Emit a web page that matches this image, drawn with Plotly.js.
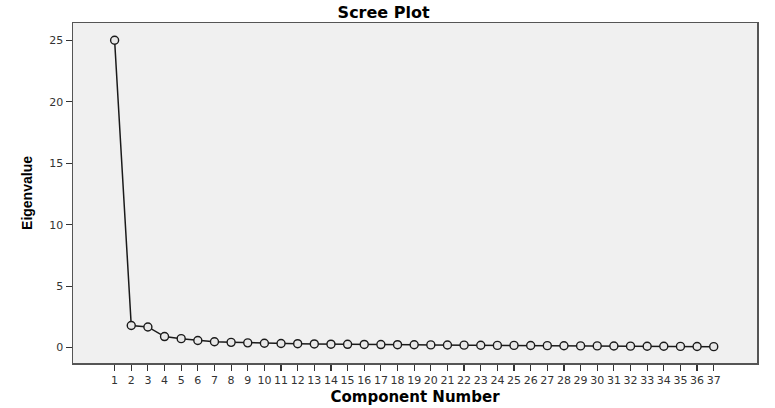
<!DOCTYPE html>
<html>
<head>
<meta charset="utf-8">
<script src="https://cdn.plot.ly/plotly-3.0.1.min.js"></script>
<style>
	html, body { margin: 0; padding: 0; background: #fff; }
	#myDiv { width: 775px; height: 408px; }
</style>
</head>
<body>
<div id="myDiv"></div>
<script>
// component numbers 1..37 and their eigenvalues
var components = [1, 2, 3, 4, 5, 6, 7, 8, 9, 10, 11, 12, 13, 14, 15, 16, 17, 18, 19,
	20, 21, 22, 23, 24, 25, 26, 27, 28, 29, 30, 31, 32, 33, 34, 35, 36, 37];

var eigenvalues = [25.0, 1.80, 1.68, 0.90, 0.73, 0.58, 0.48, 0.43, 0.39, 0.36, 0.34, 0.32,
	0.30, 0.28, 0.27, 0.26, 0.25, 0.24, 0.23, 0.22, 0.21, 0.20, 0.19, 0.18, 0.18, 0.17,
	0.16, 0.15, 0.14, 0.14, 0.13, 0.12, 0.11, 0.11, 0.10, 0.09, 0.08];

var yTicks = [0, 5, 10, 15, 20, 25];

var scree = {
	type: 'scatter',
	mode: 'lines+markers',
	x: components,
	y: eigenvalues,
	line: {color: '#1a1a1a', width: 1.5},
	marker: {
		symbol: 'circle',
		size: 8,
		color: '#e8e8e8',
		line: {color: '#1a1a1a', width: 1.4}
	},
	hoverinfo: 'skip'
};

var data = [ scree ];

var wide = 'DejaVu Sans, Verdana, sans-serif';
var tickFont = {family: wide, size: 11, color: '#333'};

var layout = {
	width: 775,
	height: 408,
	showlegend: false,
	paper_bgcolor: '#ffffff',
	plot_bgcolor: '#f0f0f0',
	margin: {l: 73, r: 18, t: 23, b: 45},
	title: {
		text: '<b>Scree Plot</b>',
		font: {family: wide, size: 16, color: '#000'},
		x: 0.495,
		xanchor: 'center',
		y: 0.97,
		yanchor: 'middle'
	},
	xaxis: {
		range: [-1.5, 39.6],
		tickmode: 'array',
		tickvals: components,
		ticktext: components.map(String),
		ticks: 'outside',
		ticklen: 6,
		tickwidth: 1.2,
		tickcolor: '#333',
		tickfont: tickFont,
		showgrid: false,
		zeroline: false,
		showline: true,
		linecolor: '#555',
		linewidth: 1.5,
		mirror: true,
		title: {
			text: '<b>Component Number</b>',
			font: {family: wide, size: 15, color: '#000'},
			standoff: 6
		}
	},
	yaxis: {
		range: [-1.25, 26.4],
		tickmode: 'array',
		tickvals: yTicks,
		ticktext: yTicks.map(String),
		ticks: 'outside',
		ticklen: 6,
		tickwidth: 1.2,
		tickcolor: '#333',
		tickfont: tickFont,
		showgrid: false,
		zeroline: false,
		showline: true,
		linecolor: '#555',
		linewidth: 1.5,
		mirror: true,
		title: {
			text: '<b>Eigenvalue</b>',
			font: {family: 'Liberation Sans, Arial, sans-serif', size: 14, color: '#000'},
			standoff: 13
		}
	}
};

var config = {
	staticPlot: true,
	displaylogo: false
};

Plotly.newPlot('myDiv', data, layout, config);
</script>
</body>
</html>
